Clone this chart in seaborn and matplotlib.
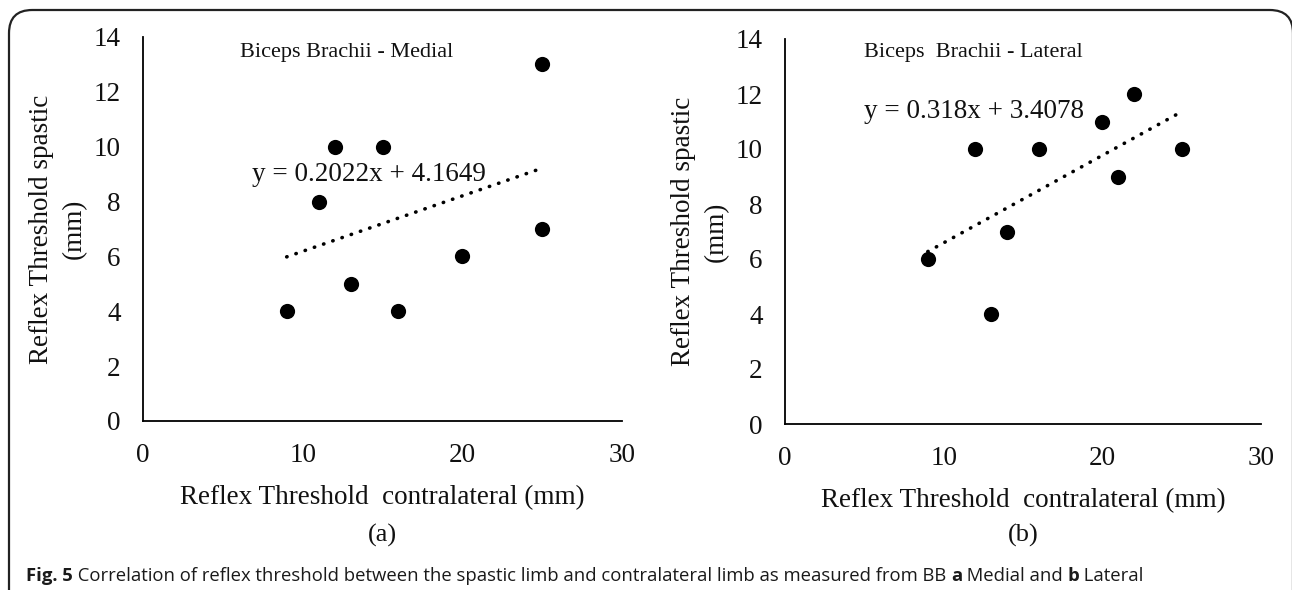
import numpy as np
import pandas as pd
import seaborn as sns
import matplotlib.pyplot as plt
from matplotlib.patches import FancyBboxPatch

# ---- data ----
medial_x = [9, 11, 12, 13, 15, 16, 20, 25, 25]
medial_y = [4, 8, 10, 5, 10, 4, 6, 13, 7]
lateral_x = [9, 12, 13, 14, 16, 20, 21, 22, 25]
lateral_y = [6, 10, 4, 7, 10, 11, 9, 12, 10]
x_ticks = [0, 10, 20, 30]
y_ticks = [0, 2, 4, 6, 8, 10, 12, 14]
titles = ["Biceps Brachii - Medial", "Biceps  Brachii - Lateral"]
equations = ["y = 0.2022x + 4.1649", "y = 0.318x + 3.4078"]
panel_tags = ["(a)", "(b)"]
xlabel = "Reflex Threshold  contralateral (mm)"
ylabel = "Reflex Threshold spastic\n(mm)"

sns.set_style("white")
plt.rcParams['font.family'] = ['Liberation Serif', 'DejaVu Serif']

fig = plt.figure(figsize=(12.92, 5.90), dpi=100)
W, H = 1292, 590

def fx(px):
    return px / W

def fy(py):
    return 1 - py / H

axes_px = [(143, 37, 622, 421), (785, 39, 1261, 424)]
title_pos = [(6.1, 13.45), (5.0, 13.5)]
eq_pos = [(6.8, 8.97), (5.0, 11.35)]
datasets = [(medial_x, medial_y), (lateral_x, lateral_y)]

for i, (l, t, r, b) in enumerate(axes_px):
    ax = fig.add_axes([fx(l), fy(b), fx(r) - fx(l), fy(t) - fy(b)])
    xs, ys = datasets[i]
    df = pd.DataFrame({"x": xs, "y": ys})
    sns.regplot(data=df, x="x", y="y", ax=ax, ci=None, truncate=True,
                scatter_kws=dict(s=120, color="black", alpha=1, linewidths=0, zorder=3),
                line_kws=dict(color="black", lw=2.6, linestyle=(0, (0.1, 2.6)),
                              dash_capstyle="round", zorder=2))
    ax.set_xlim(0, 30)
    ax.set_ylim(0, 14)
    ax.set_xticks(x_ticks)
    ax.set_yticks(y_ticks)
    ax.spines['top'].set_visible(False)
    ax.spines['right'].set_visible(False)
    for s in ['left', 'bottom']:
        ax.spines[s].set_linewidth(1.3)
        ax.spines[s].set_color("black")
    ax.tick_params(axis='x', direction='in', length=6, width=1.3, colors='#111111',
                   labelsize=19.5, pad=16)
    ax.tick_params(axis='y', direction='out', length=6, width=1.3, colors='#111111',
                   labelsize=19.5, pad=10)
    ax.set_xlabel(xlabel, fontsize=19.5, labelpad=12, color="#111111")
    ax.set_ylabel(ylabel, fontsize=19.5, labelpad=5, color="#111111",
                  linespacing=1.38)
    ax.text(*title_pos[i], titles[i], fontsize=16, ha='left', va='center',
            color="#111111")
    ax.text(*eq_pos[i], equations[i], fontsize=19.5, ha='left', va='center',
            color="#111111")
    fig.text(fx((l + r) / 2), fy(535), panel_tags[i], fontsize=19,
             ha='center', va='center', color="#111111")

# caption
cap_font = ['Open Sans', 'DejaVu Sans']
cap_size = 13.3
x0 = fx(26)
t1 = fig.text(x0, fy(576), "Fig. 5", fontsize=cap_size, fontweight='bold',
              family=cap_font, ha='left', va='center', color="#1a1a1a")
fig.canvas.draw()
renderer = fig.canvas.get_renderer()

def put(txt, weight='normal'):
    global t1
    bb = t1.get_window_extent(renderer)
    xpos = bb.x1 / fig.bbox.width
    t1 = fig.text(xpos, fy(576), txt, fontsize=cap_size, fontweight=weight,
                  family=cap_font, ha='left', va='center', color="#1a1a1a")

put(" Correlation of reflex threshold between the spastic limb and contralateral limb as measured from BB ")
put("a", 'bold')
put(" Medial and ")
put("b", 'bold')
put(" Lateral")

# frame
frame = FancyBboxPatch((fx(9), fy(640)), fx(1293) - fx(9), fy(10) - fy(640),
                       boxstyle="round,pad=0,rounding_size=0.018",
                       transform=fig.transFigure, fill=False, ec="#222222",
                       lw=1.6, mutation_aspect=W / H, clip_on=False)
fig.patches.append(frame)

fig.savefig("out.png", dpi=100)
